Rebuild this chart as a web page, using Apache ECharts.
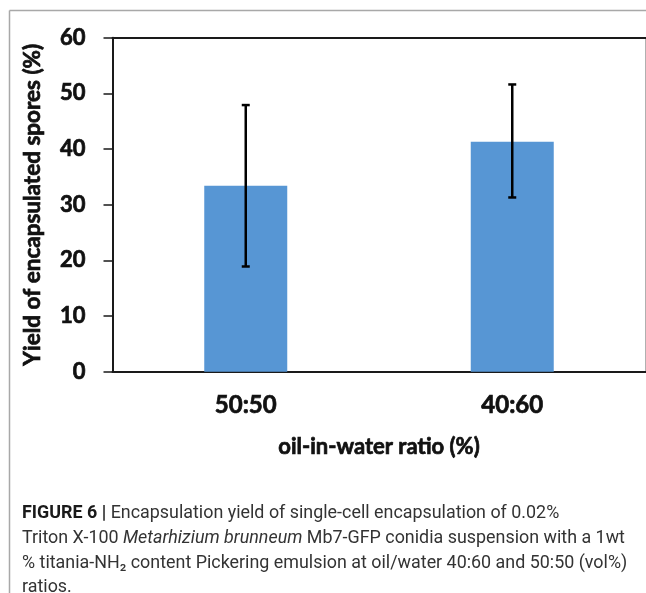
<!DOCTYPE html>
<html><head><meta charset="utf-8">
<script src="https://cdn.jsdelivr.net/npm/echarts@6/dist/echarts.min.js"></script>
<style>html,body{margin:0;padding:0;background:#fff;}#c{width:646px;height:593px;}</style>
</head><body><div id="c"></div>
<script>
const categories = ['50:50', '40:60'];
const means = [33.4, 41.3];
const errLow = [18.9, 31.3];
const errHigh = [47.9, 51.6];
const yTicks = [0, 10, 20, 30, 40, 50, 60];

const chart = echarts.init(document.getElementById('c'), null, {renderer: 'canvas'});
const capFont = 'Roboto';
const capSize = 18.6;
const capScale = 0.962;
const errData = categories.map((c, i) => [i, errLow[i], errHigh[i]]);
const heavy = {fontFamily: 'Lato', fontWeight: 'bold', color: '#111', textBorderColor: '#111', textBorderWidth: 0.7};

const option = {
  backgroundColor: '#fff',
  animation: false,
  grid: {left: 112.5, right: 0.5, top: 37.7, bottom: 221.3, show: true, borderColor: '#b0b0b0', borderWidth: 1, backgroundColor: 'transparent'},
  xAxis: [{
    type: 'category', data: categories, position: 'bottom',
    axisLine: {lineStyle: {color: '#1a1a1a', width: 2}},
    axisTick: {alignWithLabel: true, length: 6, lineStyle: {color: '#1a1a1a', width: 1.5}},
    axisLabel: Object.assign({fontSize: 24, margin: 22}, heavy),
    name: 'oil-in-water ratio (%)', nameLocation: 'middle', nameGap: 64,
    nameTextStyle: Object.assign({fontSize: 22}, heavy)
  }, {
    type: 'category', data: categories, position: 'top',
    axisLine: {lineStyle: {color: '#1a1a1a', width: 2}},
    axisTick: {show: false}, axisLabel: {show: false}
  }],
  yAxis: {
    type: 'value', min: 0, max: 60, interval: 10,
    axisLine: {show: true, lineStyle: {color: '#1a1a1a', width: 2}},
    axisTick: {show: true, length: 9, lineStyle: {color: '#1a1a1a', width: 1.5}},
    splitLine: {show: false},
    axisLabel: Object.assign({fontSize: 22, margin: 27,
      formatter: v => yTicks.includes(v) ? String(v) : ''}, heavy),
    name: 'Yield of encapsulated spores (%)', nameLocation: 'middle', nameGap: 68,
    nameTextStyle: Object.assign({fontSize: 22.5}, heavy)
  },
  series: [{
    type: 'bar', data: means, barWidth: 83, xAxisIndex: 0,
    itemStyle: {color: '#5796d4'}
  }, {
    type: 'custom', xAxisIndex: 0, data: errData, z: 5,
    renderItem: function (params, api) {
      const x = api.value(0);
      const lo = api.coord([x, api.value(1)]);
      const hi = api.coord([x, api.value(2)]);
      const cw = 4;
      const st = {stroke: '#000', lineWidth: 2.5};
      return {type: 'group', children: [
        {type: 'line', shape: {x1: lo[0], y1: lo[1], x2: hi[0], y2: hi[1]}, style: st},
        {type: 'line', shape: {x1: lo[0] - cw, y1: lo[1], x2: lo[0] + cw, y2: lo[1]}, style: st},
        {type: 'line', shape: {x1: hi[0] - cw, y1: hi[1], x2: hi[0] + cw, y2: hi[1]}, style: st}
      ]};
    }
  }],
  graphic: [
    {type: 'line', shape: {x1: 9.5, y1: 10.5, x2: 646, y2: 10.5}, style: {stroke: '#a8a8a8', lineWidth: 1.5}},
    {type: 'line', shape: {x1: 9.5, y1: 10.5, x2: 9.5, y2: 593}, style: {stroke: '#a8a8a8', lineWidth: 1.5}},
    {type: 'text', x: 22, y: 504, scaleX: capScale, style: {
      text: '{b|FIGURE 6 |} Encapsulation yield of single-cell encapsulation of 0.02%',
      fontFamily: capFont, fontSize: capSize, fill: '#333',
      rich: {b: {fontFamily: capFont, fontSize: capSize, fontWeight: 'bold', fill: '#1a1a1a'}}
    }},
    {type: 'text', x: 22, y: 529, scaleX: capScale, style: {
      text: 'Triton X-100 {i|Metarhizium brunneum} Mb7-GFP conidia suspension with a 1wt',
      fontFamily: capFont, fontSize: capSize, fill: '#333',
      rich: {i: {fontFamily: capFont, fontSize: capSize, fontStyle: 'italic', fill: '#333'}}
    }},
    {type: 'text', x: 22, y: 553.5, scaleX: capScale, style: {
      text: '% titania-NH₂ content Pickering emulsion at oil/water 40:60 and 50:50 (vol%)',
      fontFamily: capFont, fontSize: capSize, fill: '#333'
    }},
    {type: 'text', x: 22, y: 578, scaleX: capScale, style: {
      text: 'ratios.', fontFamily: capFont, fontSize: capSize, fill: '#333'
    }}
  ]
};
chart.setOption(option);
</script></body></html>
